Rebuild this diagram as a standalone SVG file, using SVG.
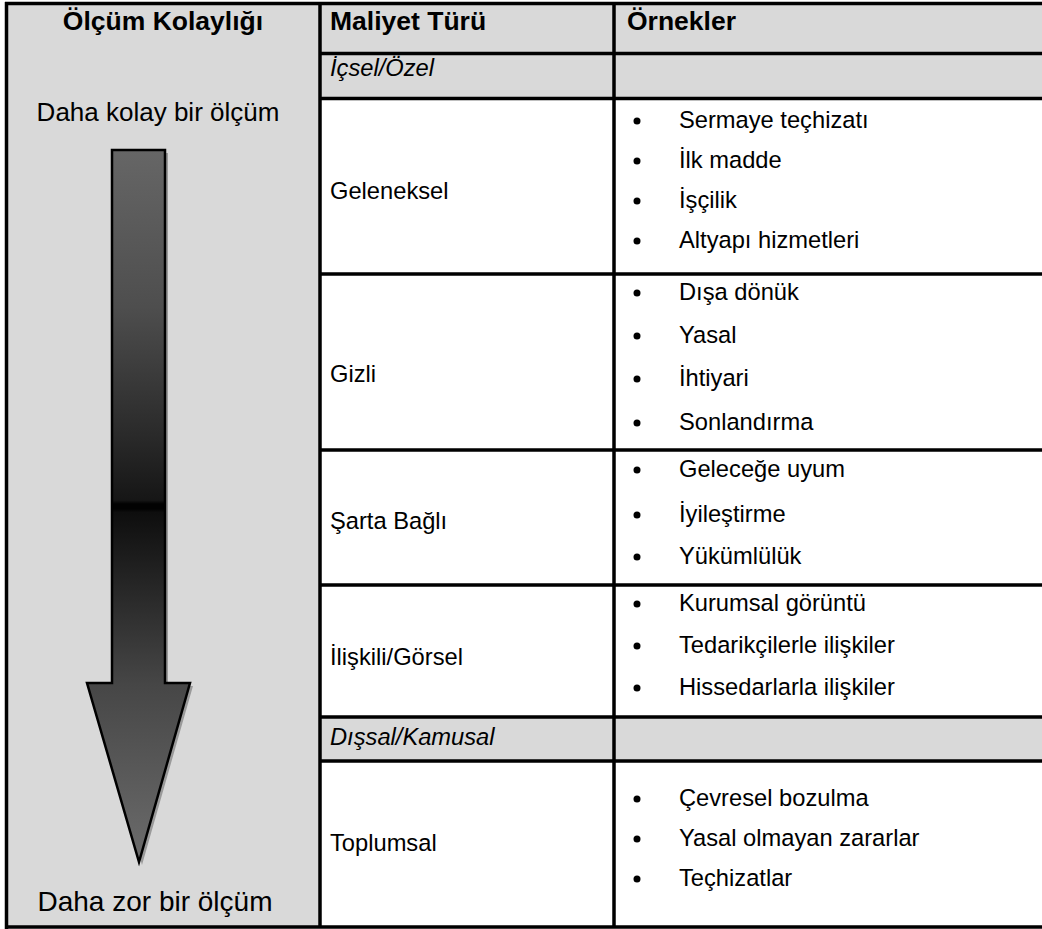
<svg xmlns="http://www.w3.org/2000/svg" width="1042" height="929" viewBox="0 0 1042 929">
<style>
.t{font-family:"Liberation Sans",Arial,sans-serif;fill:#000}
.h{font-size:26.5px;font-weight:bold}
.c1{font-size:26px}
.c2{font-size:28px}
.b{font-size:23.7px}
.i{font-size:23.7px;font-style:italic}
.g{fill:#d9d9d9}
.ln{stroke:#000;stroke-width:3.5;fill:none}
.dot{fill:#000}
</style>
<defs>
<linearGradient id="ag" gradientUnits="userSpaceOnUse" x1="0" y1="150" x2="0" y2="862">
<stop offset="0" stop-color="#666"/>
<stop offset="0.22" stop-color="#4e4e4e"/>
<stop offset="0.40" stop-color="#2a2a2a"/>
<stop offset="0.492" stop-color="#161616"/>
<stop offset="0.497" stop-color="#020202"/>
<stop offset="0.504" stop-color="#020202"/>
<stop offset="0.509" stop-color="#0e0e0e"/>
<stop offset="0.75" stop-color="#464646"/>
<stop offset="1" stop-color="#6c6c6c"/>
</linearGradient>
</defs>
<rect width="1042" height="929" fill="#fff"/>
<g id="backgrounds">
<rect class="g" x="6.5" y="3.5" width="313.5" height="923.5"/>
<rect class="g" x="320" y="3.5" width="722" height="95"/>
<rect class="g" x="320" y="717" width="722" height="44"/>
</g>
<g id="arrow">
<path d="M115 153 H168 V686 H193 L142 865 L90 686 H115 Z" fill="#9a9a9a"/>
<path d="M112 150 H165 V683 H190 L139 862 L87 683 H112 Z" fill="url(#ag)" stroke="#000" stroke-width="2.5" stroke-linejoin="miter"/>
</g>
<g id="grid">
<path class="ln" d="M5 3.5 H1042 M6.5 2 V929 M5 927 H1042 M320 3.5 V927 M614 3.5 V927"/>
<path class="ln" d="M320 53.5 H1042 M320 98.5 H1042 M320 274 H1042 M320 450 H1042 M320 585 H1042 M320 717 H1042 M320 761 H1042"/>
</g>
<g id="col-ease">
<text class="t h" x="163" y="30" text-anchor="middle">Ölçüm Kolaylığı</text>
<text class="t c1" x="158" y="121" text-anchor="middle">Daha kolay bir ölçüm</text>
<text class="t c2" x="155" y="911" text-anchor="middle">Daha zor bir ölçüm</text>
</g>
<g id="header">
<text class="t h" x="330" y="30">Maliyet Türü</text>
<text class="t h" x="627" y="30">Örnekler</text>
</g>
<g id="row-icsel">
<text class="t i" x="330" y="76">İçsel/Özel</text>
</g>
<g id="row-geleneksel">
<text class="t b" x="330" y="199">Geleneksel</text>
<circle class="dot" cx="637" cy="121" r="3.5"/><text class="t b" x="679" y="128">Sermaye teçhizatı</text>
<circle class="dot" cx="637" cy="161" r="3.5"/><text class="t b" x="679" y="168">İlk madde</text>
<circle class="dot" cx="637" cy="201" r="3.5"/><text class="t b" x="679" y="208">İşçilik</text>
<circle class="dot" cx="637" cy="241" r="3.5"/><text class="t b" x="679" y="248">Altyapı hizmetleri</text>
</g>
<g id="row-gizli">
<text class="t b" x="330" y="382">Gizli</text>
<circle class="dot" cx="637" cy="293" r="3.5"/><text class="t b" x="679" y="300">Dışa dönük</text>
<circle class="dot" cx="637" cy="336" r="3.5"/><text class="t b" x="679" y="343">Yasal</text>
<circle class="dot" cx="637" cy="379" r="3.5"/><text class="t b" x="679" y="386">İhtiyari</text>
<circle class="dot" cx="637" cy="423" r="3.5"/><text class="t b" x="679" y="430">Sonlandırma</text>
</g>
<g id="row-sarta">
<text class="t b" x="330" y="529">Şarta Bağlı</text>
<circle class="dot" cx="637" cy="470" r="3.5"/><text class="t b" x="679" y="477">Geleceğe uyum</text>
<circle class="dot" cx="637" cy="515" r="3.5"/><text class="t b" x="679" y="522">İyileştirme</text>
<circle class="dot" cx="637" cy="557" r="3.5"/><text class="t b" x="679" y="564">Yükümlülük</text>
</g>
<g id="row-iliskili">
<text class="t b" x="330" y="665">İlişkili/Görsel</text>
<circle class="dot" cx="637" cy="604" r="3.5"/><text class="t b" x="679" y="611">Kurumsal görüntü</text>
<circle class="dot" cx="637" cy="646" r="3.5"/><text class="t b" x="679" y="653">Tedarikçilerle ilişkiler</text>
<circle class="dot" cx="637" cy="688" r="3.5"/><text class="t b" x="679" y="695">Hissedarlarla ilişkiler</text>
</g>
<g id="row-dissal">
<text class="t i" x="330" y="745">Dışsal/Kamusal</text>
</g>
<g id="row-toplumsal">
<text class="t b" x="330" y="851">Toplumsal</text>
<circle class="dot" cx="637" cy="799" r="3.5"/><text class="t b" x="679" y="806">Çevresel bozulma</text>
<circle class="dot" cx="637" cy="839" r="3.5"/><text class="t b" x="679" y="846">Yasal olmayan zararlar</text>
<circle class="dot" cx="637" cy="879" r="3.5"/><text class="t b" x="679" y="886">Teçhizatlar</text>
</g>
</svg>
